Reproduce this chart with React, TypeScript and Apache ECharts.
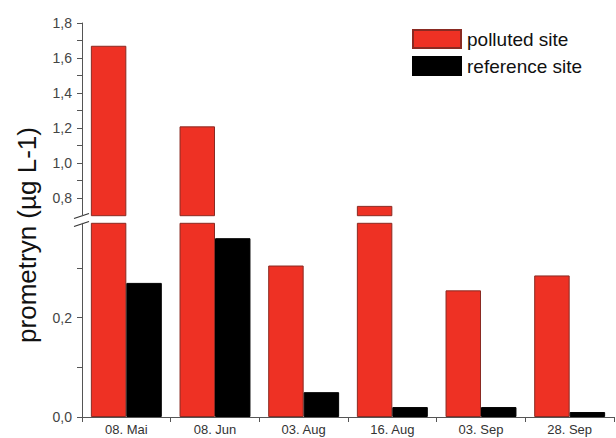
import React, { useEffect, useRef } from "react";
import * as echarts from "echarts";

// Sampling dates
const categories = ["08. Mai", "08. Jun", "03. Aug", "16. Aug", "03. Sep", "28. Sep"];
// Prometryn concentration (µg L-1)
const polluted = [1.67, 1.21, 0.305, 0.756, 0.255, 0.285];
const reference = [0.27, 0.36, 0.05, 0.02, 0.02, 0.01];

// Broken value axis: lower and upper segments
const lowerMin = 0;
const lowerMax = 0.39;
const upperMin = 0.7;
const upperMax = 1.8;
const lowerTicks = [0, 0.1, 0.2, 0.3];
const lowerLabels = [0, 0.2];
const upperTicks = [0.8, 0.9, 1.0, 1.1, 1.2, 1.3, 1.4, 1.5, 1.6, 1.7, 1.8];
const upperLabels = [0.8, 1.0, 1.2, 1.4, 1.6, 1.8];

const RED = "#ee3124";
const RED_EDGE = "#8a2a22";
const FONT = "Liberation Sans, Arial, sans-serif";

const fmt = (v: number) => v.toFixed(1).replace(".", ",");

export default function App() {
  const ref = useRef<HTMLDivElement>(null);

  useEffect(() => {
    document.body.style.margin = "0";
    const chart = echarts.init(ref.current!, null, { renderer: "svg" });

    const isLabel = (list: number[]) => (v: number) =>
      list.some((x) => Math.abs(x - v) < 1e-6) ? fmt(v) : "";

    const valueAxisBase = {
      type: "value" as const,
      axisLine: { show: true, lineStyle: { color: "#555", width: 1 } },
      axisTick: { show: true, inside: false, length: 5, lineStyle: { color: "#555" } },
      splitLine: { show: false },
      axisLabel: { color: "#444", fontSize: 14, fontFamily: FONT, margin: 10 },
    };

    const barStyle = (color: string, edge: string) => ({
      color,
      borderColor: edge,
      borderWidth: 1,
    });

    chart.setOption({
      animation: false,
      backgroundColor: "#fff",
      legend: {
        data: ["polluted site", "reference site"],
        orient: "vertical",
        left: 412,
        top: 29,
        padding: 0,
        icon: "rect",
        itemWidth: 48,
        itemHeight: 18,
        itemGap: 7,
        textStyle: { color: "#111", fontSize: 19, fontFamily: FONT, padding: [0, 0, 0, 1] },
        selectedMode: false,
      },
      grid: [
        { left: 82, right: 2, top: 223.3, bottom: 21, outerBoundsMode: "none", containLabel: false },
        { left: 82, right: 2, top: 23, height: 192.7, outerBoundsMode: "none", containLabel: false },
      ],
      xAxis: [
        {
          type: "category",
          gridIndex: 0,
          data: categories,
          axisLine: { show: true, lineStyle: { color: "#555" } },
          axisTick: { show: true, length: 5, lineStyle: { color: "#555" } },
          axisLabel: { color: "#333", fontSize: 13, fontFamily: FONT, margin: 6 },
        },
        {
          type: "category",
          gridIndex: 1,
          data: categories,
          show: false,
        },
      ],
      yAxis: [
        {
          ...valueAxisBase,
          gridIndex: 0,
          min: lowerMin,
          max: lowerMax,
          interval: 0.1,
          axisTick: { ...valueAxisBase.axisTick, customValues: lowerTicks },
          axisLabel: {
            ...valueAxisBase.axisLabel,
            customValues: lowerLabels,
            formatter: isLabel(lowerLabels),
          },
        },
        {
          ...valueAxisBase,
          gridIndex: 1,
          min: upperMin,
          max: upperMax,
          interval: 0.1,
          axisTick: { ...valueAxisBase.axisTick, customValues: upperTicks },
          axisLabel: {
            ...valueAxisBase.axisLabel,
            customValues: upperLabels,
            formatter: isLabel(upperLabels),
          },
        },
      ],
      series: [
        {
          name: "polluted site",
          type: "bar",
          xAxisIndex: 0,
          yAxisIndex: 0,
          data: polluted,
          barGap: "0%",
          barCategoryGap: "20%",
          clip: true,
          itemStyle: barStyle(RED, RED_EDGE),
        },
        {
          name: "reference site",
          type: "bar",
          xAxisIndex: 0,
          yAxisIndex: 0,
          data: reference,
          barGap: "0%",
          barCategoryGap: "20%",
          clip: true,
          itemStyle: barStyle("#000", "#000"),
        },
        {
          name: "polluted site",
          type: "bar",
          xAxisIndex: 1,
          yAxisIndex: 1,
          data: polluted.map((v) => (v > upperMin ? v : null)),
          barGap: "0%",
          barCategoryGap: "20%",
          clip: true,
          itemStyle: barStyle(RED, RED_EDGE),
        },
        {
          name: "reference site",
          type: "bar",
          xAxisIndex: 1,
          yAxisIndex: 1,
          data: reference.map((v) => (v > upperMin ? v : null)),
          barGap: "0%",
          barCategoryGap: "20%",
          clip: true,
          itemStyle: barStyle("#000", "#000"),
        },
      ],
      graphic: [
        // axis break marks
        {
          type: "line",
          shape: { x1: 74, y1: 218.5, x2: 89, y2: 213.5 },
          style: { stroke: "#333", lineWidth: 1.2 },
        },
        {
          type: "line",
          shape: { x1: 74, y1: 226.5, x2: 89, y2: 221.5 },
          style: { stroke: "#333", lineWidth: 1.2 },
        },
        {
          type: "text",
          x: 27,
          y: 235,
          rotation: Math.PI / 2,
          style: {
            text: "prometryn (µg L-1)",
            fontSize: 26,
            fontFamily: FONT,
            fill: "#111",
            align: "center",
            verticalAlign: "middle",
          },
        },
      ],
    });

    return () => chart.dispose();
  }, []);

  return <div ref={ref} style={{ width: 616, height: 438 }} />;
}
